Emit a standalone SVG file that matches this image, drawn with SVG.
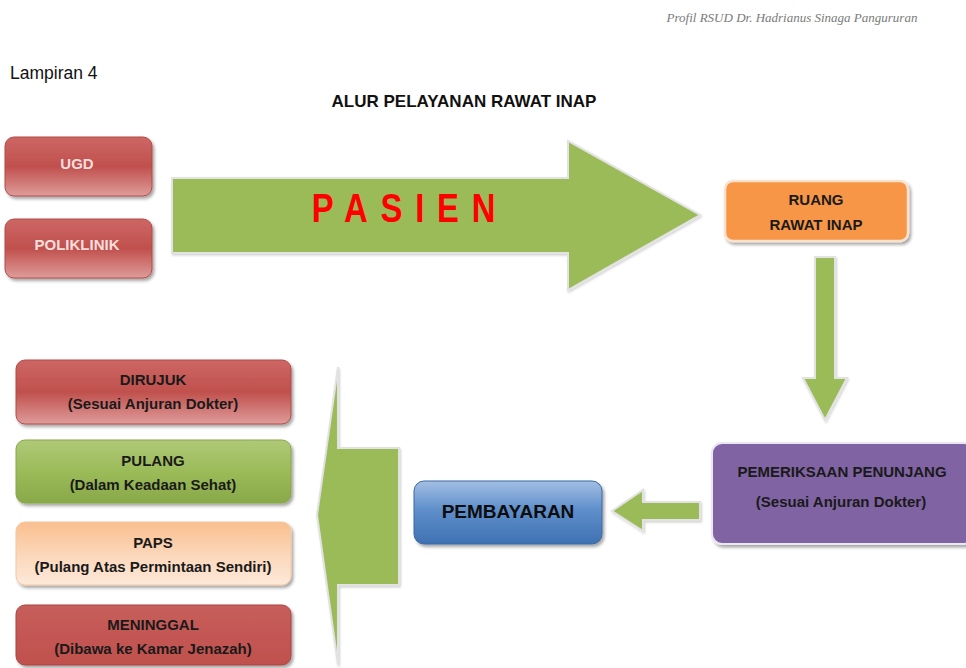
<svg xmlns="http://www.w3.org/2000/svg" width="966" height="668" viewBox="0 0 966 668">
<defs>
<linearGradient id="gRed" x1="0" y1="0" x2="0" y2="1">
<stop offset="0" stop-color="#cd6764"/><stop offset="0.5" stop-color="#c0504d"/><stop offset="1" stop-color="#de9c9a"/>
</linearGradient>
<linearGradient id="gRed2" x1="0" y1="0" x2="0" y2="1">
<stop offset="0" stop-color="#c75e5b"/><stop offset="1" stop-color="#c0504d"/>
</linearGradient>
<linearGradient id="gGreen" x1="0" y1="0" x2="0" y2="1">
<stop offset="0" stop-color="#afc978"/><stop offset="0.5" stop-color="#9bbb59"/><stop offset="1" stop-color="#89a94a"/>
</linearGradient>
<linearGradient id="gPeach" x1="0" y1="0" x2="0" y2="1">
<stop offset="0" stop-color="#f9bf8e"/><stop offset="0.5" stop-color="#fbd6b8"/><stop offset="1" stop-color="#fde9da"/>
</linearGradient>
<linearGradient id="gBlue" x1="0" y1="0" x2="0" y2="1">
<stop offset="0" stop-color="#a3bfe3"/><stop offset="0.45" stop-color="#5f8fcb"/><stop offset="1" stop-color="#3f71b2"/>
</linearGradient>
<filter id="sh" x="-10%" y="-10%" width="125%" height="135%">
<feDropShadow dx="2" dy="2.5" stdDeviation="1.5" flood-color="#000" flood-opacity="0.35"/>
</filter>
<filter id="shl" x="-10%" y="-10%" width="125%" height="135%">
<feDropShadow dx="1" dy="1.5" stdDeviation="1" flood-color="#000" flood-opacity="0.18"/>
</filter>
</defs>
<style>
text{font-family:"Liberation Sans",Arial,sans-serif;font-weight:bold;text-anchor:middle;}
.lbl{font-size:15px;fill:#1a1a1a;}
.lt{font-size:15px;fill:#f6dedd;}
.arrow{fill:#9bbb59;stroke:#e2e2e2;stroke-width:2;stroke-linejoin:miter;}
.box{filter:url(#sh);}
</style>
<rect width="966" height="668" fill="#ffffff"/>

<text x="792" y="22" style="font-family:'Liberation Serif',serif;font-style:italic;font-weight:normal;font-size:13px;fill:#7a7a7a">Profil RSUD Dr. Hadrianus Sinaga Pangururan</text>
<text x="10" y="79" style="text-anchor:start;font-weight:normal;font-size:17.5px;fill:#111">Lampiran 4</text>
<text x="464" y="107" style="font-size:17px;fill:#111">ALUR PELAYANAN RAWAT INAP</text>

<g id="connectors">
<polygon class="arrow" filter="url(#shl)" points="172,178 568,178 568,141 700,215 568,290 568,253 172,253"/>
<polygon class="arrow" filter="url(#shl)" points="815,257 835,257 835,378 847,378 825,420 803,378 815,378"/>
<polygon class="arrow" filter="url(#shl)" points="700,502 643,502 643,490 612,511 643,531 643,520 700,520"/>
<polygon class="arrow" filter="url(#shl)" points="399,448 338,448 338,367 317,515 338,665 338,585 399,585"/>
<text x="410" y="222" transform="translate(410,222) scale(0.8,1) translate(-410,-222)" style="font-size:41px;fill:#ff0000;letter-spacing:16px">PASIEN</text>
</g>

<g id="ugd"><rect class="box" x="5" y="137" width="147" height="59" rx="9" fill="url(#gRed)" stroke="#b14a47" stroke-width="1"/><text class="lt" x="77" y="169">UGD</text></g>
<g id="poliklinik"><rect class="box" x="5" y="219" width="147" height="59" rx="9" fill="url(#gRed)" stroke="#b14a47" stroke-width="1"/><text class="lt" x="77" y="250">POLIKLINIK</text></g>

<g id="ruang"><rect class="box" x="725" y="181" width="183" height="60" rx="8" fill="#f79646" stroke="#fbe2cf" stroke-width="2.5"/><text class="lbl" x="816" y="205">RUANG</text><text class="lbl" x="816" y="230">RAWAT INAP</text></g>

<g id="pemeriksaan"><rect class="box" x="712" y="443" width="262" height="101" rx="10" fill="#8064a2" stroke="#ece6f2" stroke-width="2"/><text class="lbl" x="842" y="477">PEMERIKSAAN PENUNJANG</text><text class="lbl" x="841" y="507">(Sesuai Anjuran Dokter)</text></g>

<g id="pembayaran"><rect class="box" x="414" y="481" width="188" height="63" rx="10" fill="url(#gBlue)" stroke="#3a68a5" stroke-width="1"/><text x="508" y="518" style="font-size:19px;fill:#0d0d0d">PEMBAYARAN</text></g>

<g id="dirujuk"><rect class="box" x="16" y="360" width="275" height="64" rx="9" fill="url(#gRed)" stroke="#b14a47" stroke-width="1"/><text class="lbl" x="153" y="385">DIRUJUK</text><text class="lbl" x="153" y="409">(Sesuai Anjuran Dokter)</text></g>
<g id="pulang"><rect class="box" x="16" y="440" width="275" height="63" rx="9" fill="url(#gGreen)" stroke="#87a64b" stroke-width="1"/><text class="lbl" x="153" y="466">PULANG</text><text class="lbl" x="153" y="490">(Dalam Keadaan Sehat)</text></g>
<g id="paps"><rect class="box" x="16" y="522" width="275" height="63" rx="9" fill="url(#gPeach)" stroke="#f3c8a4" stroke-width="1"/><text class="lbl" x="153" y="548">PAPS</text><text class="lbl" x="153" y="572">(Pulang Atas Permintaan Sendiri)</text></g>
<g id="meninggal"><rect class="box" x="16" y="605" width="275" height="60" rx="9" fill="url(#gRed2)" stroke="#a94542" stroke-width="1"/><text class="lbl" x="153" y="630">MENINGGAL</text><text class="lbl" x="153" y="654">(Dibawa ke Kamar Jenazah)</text></g>
</svg>
